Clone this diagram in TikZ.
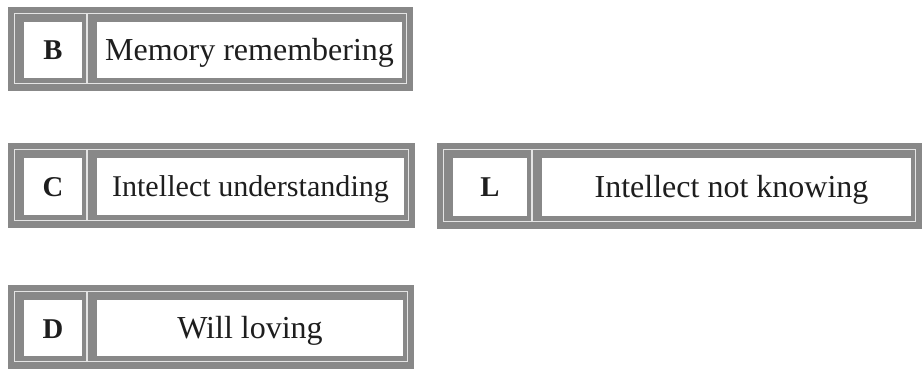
\documentclass[tikz,border=0pt]{standalone}
\usepackage{fontspec}
\setmainfont{Liberation Serif}
\definecolor{boxgray}{RGB}{136,136,136}
\definecolor{sepline}{RGB}{228,228,228}
\definecolor{inkc}{RGB}{30,30,30}
\tikzset{
  lettertxt/.style={anchor=base, inner sep=0pt, text=inkc, font=\fontsize{21.5}{24}\selectfont\bfseries},
  labeltxt/.style={anchor=base, inner sep=0pt, text=inkc, font=\fontsize{24}{28}\selectfont},
  sepstroke/.style={draw=sepline, line width=1.1pt},
}
% #1 x1, #2 y1, #3 x2, #4 y2, #5 divider x, #6 name, #7 letter, #8 text, #9 text x shift
\newcommand\mybox[9]{%
  \fill[boxgray] (#1,#2) rectangle (#3,#4);
  \draw[sepstroke] ({#1+6.5},{#2+6.5}) rectangle ({#3-6.5},{#4-7.5});
  \draw[sepstroke] (#5,{#2+6.5}) -- (#5,{#4-7.5});
  \fill[white] ({#1+16},{#2+15}) rectangle ({#5-5},{#4-13});
  \fill[white] ({#5+10},{#2+15}) rectangle ({#3-11},{#4-13});
  \node[lettertxt] (#6l) at ({(#1+16+#5-5)/2},{(#2+15+#4-13)/2+10}) {#7};
  \node[labeltxt] (#6t) at ({(#5+10+#3-11)/2+#9},{(#2+15+#4-13)/2+10.5}) {#8};
}
\begin{document}
\begin{tikzpicture}[x=0.75pt,y=-0.75pt]
\useasboundingbox (0,0) rectangle (924,370);
\mybox{8}{7}{413}{91}{87}{b}{B}{Memory remembering}{0}
\mybox{8}{143}{415}{228}{87}{c}{C}{\fontsize{22.6}{26}\selectfont Intellect understanding}{0}
\mybox{437}{143}{922}{229}{532}{l}{L}{Intellect not knowing}{5}
\mybox{8}{285}{414}{369}{87}{d}{D}{Will loving}{0}
\end{tikzpicture}
\end{document}
